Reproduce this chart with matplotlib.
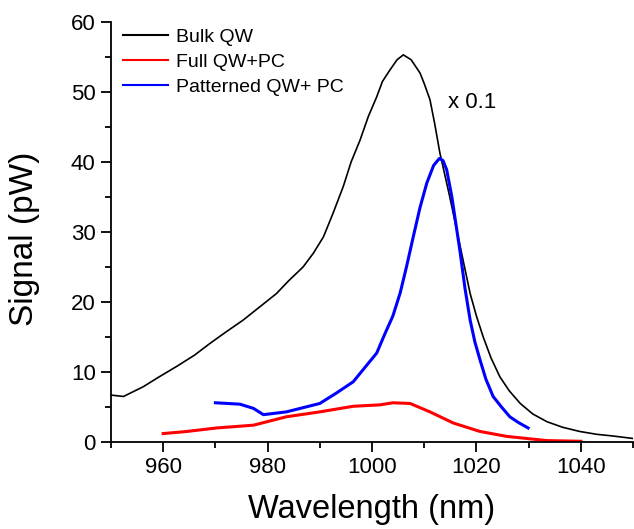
import matplotlib
matplotlib.use('Agg')
import matplotlib.pyplot as plt
from matplotlib.ticker import MultipleLocator

plt.rcParams['font.family'] = ['Liberation Sans', 'DejaVu Sans']

# ---- values (bulk QW already scaled x0.1) ----
bulk_wl = [950.0, 952.4, 956.2, 959.0, 962.6, 966.0, 969.0, 972.0, 975.3, 978.5,
           981.7, 984.0, 986.8, 988.8, 990.7, 992.5,
           994.5, 996.0, 997.7, 999.3, 1000.9, 1002.0, 1003.4, 1004.8, 1006.0,
           1007.5, 1009.2, 1010.0, 1011.1, 1012.0, 1013.0, 1014.9, 1016.9, 1018.8,
           1020.0, 1021.3, 1022.8, 1024.5, 1026.3, 1028.4, 1030.8, 1033.5, 1036.5,
           1039.8, 1043.0, 1046.2, 1050.0]
bulk_sig = [6.7, 6.5, 7.9, 9.2, 10.8, 12.4, 14.1, 15.7, 17.4, 19.3,
            21.2, 23.0, 25.0, 27.0, 29.3, 32.6,
            36.5, 40.0, 43.1, 46.5, 49.3, 51.5, 53.1, 54.6, 55.3,
            54.6, 52.7, 51.2, 48.9, 45.5, 41.3, 35.0, 27.9, 21.2,
            18.0, 15.0, 12.0, 9.3, 7.3, 5.5, 4.0, 2.9, 2.1,
            1.5, 1.1, 0.85, 0.5]

full_wl = [960.0, 964.5, 970.2, 977.3, 983.6, 990.0, 996.4, 1001.5, 1004.0, 1007.3,
           1011.1, 1015.6, 1020.7, 1025.8, 1033.5, 1040.0]
full_sig = [1.2, 1.5, 2.0, 2.4, 3.6, 4.3, 5.1, 5.3, 5.6, 5.5,
            4.3, 2.7, 1.5, 0.8, 0.2, 0.1]

pat_wl = [970.0, 974.7, 977.3, 979.2, 983.6, 990.0, 993.2, 996.4, 1000.9, 1002.5,
          1004.0, 1005.4, 1006.6, 1007.9, 1009.2, 1010.5, 1011.8, 1012.9, 1013.6,
          1014.3, 1015.3, 1016.9, 1017.8, 1018.8, 1019.7, 1020.7, 1021.8, 1023.2,
          1024.8, 1026.4, 1028.0, 1029.9]
pat_sig = [5.6, 5.4, 4.8, 3.9, 4.3, 5.5, 7.0, 8.6, 12.7, 15.5,
           18.0, 21.3, 25.0, 29.3, 33.5, 37.0, 39.5, 40.5, 40.2,
           38.9, 35.0, 27.0, 22.0, 17.4, 14.3, 11.7, 9.0, 6.5,
           5.0, 3.6, 2.8, 2.0]

fig = plt.figure(figsize=(6.34, 5.29), dpi=100)
ax = fig.add_axes([0.175, 0.1645, 0.8235, 0.794])

ax.plot(bulk_wl, bulk_sig, color='black', lw=1.2, label='Bulk QW')
ax.plot(full_wl, full_sig, color='#ff0000', lw=2.2, label='Full QW+PC')
ax.plot(pat_wl, pat_sig, color='#0000ff', lw=2.2, label='Patterned QW+ PC')

ax.set_xlim(950, 1050)
ax.set_ylim(0, 60)
ax.xaxis.set_major_locator(MultipleLocator(20))
ax.xaxis.set_minor_locator(MultipleLocator(10))
ax.yaxis.set_major_locator(MultipleLocator(10))
ax.yaxis.set_minor_locator(MultipleLocator(5))
ax.set_xticks([960, 980, 1000, 1020, 1040])
ax.tick_params(which='major', direction='out', length=7, width=1.3, labelsize=16, pad=4)
ax.tick_params(which='minor', direction='out', length=4, width=1.3)
for s in ['top', 'right']:
    ax.spines[s].set_visible(False)
for s in ['left', 'bottom']:
    ax.spines[s].set_linewidth(1.3)

ax.set_xlabel('Wavelength (nm)', fontsize=23.5)
ax.set_ylabel('Signal (pW)', fontsize=24)
ax.xaxis.set_label_coords(0.5, -0.125)
ax.yaxis.set_label_coords(-0.136, 0.483)

ax.text(1014.5, 48.5, 'x 0.1', fontsize=16, va='center', ha='left')

leg = ax.legend(loc='upper left', bbox_to_anchor=(0.008, 1.003), frameon=False,
                fontsize=14, handlelength=2.3, handletextpad=0.45, labelspacing=0.38,
                borderaxespad=0.0)
for line in leg.get_lines():
    line.set_linewidth(1.5)

fig.savefig('out.png', dpi=100, facecolor='white')
